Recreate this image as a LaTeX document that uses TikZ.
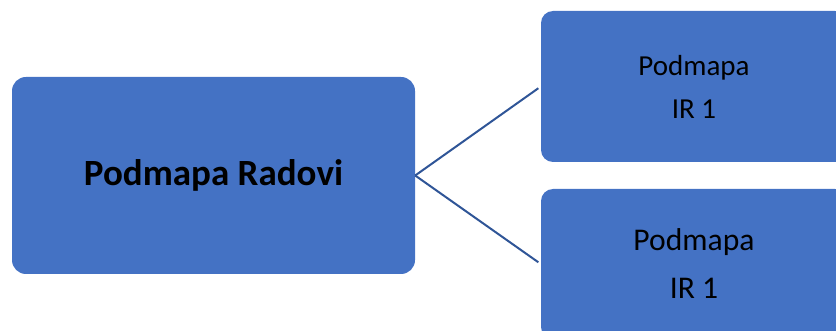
\documentclass[tikz,border=0pt]{standalone}
\usepackage{fontspec}
\setmainfont{Carlito}
\definecolor{boxblue}{HTML}{4472C4}
\definecolor{linkblue}{HTML}{2F5597}
\begin{document}
\begin{tikzpicture}[x=1pt,y=-1pt,
  mapbox/.style={draw=none,fill=boxblue,rounded corners=14pt,inner sep=0pt,
    align=center,text=black},
  link/.style={draw=linkblue,line width=2pt}]
  \useasboundingbox (0,0) rectangle (836,331);
  \clip (0,0) rectangle (836,331);
  \node[mapbox,minimum width=403pt,minimum height=197pt,
    font=\fontsize{37}{42}\selectfont\bfseries] (main) at (213.5,175.5) {Podmapa Radovi};
  \node[mapbox,rounded corners=12pt,minimum width=306pt,minimum height=151pt,
    font=\fontsize{29}{43}\selectfont] (top) at (694,86.5) {Podmapa\\IR 1};
  \node[mapbox,rounded corners=12pt,minimum width=306pt,minimum height=150pt,
    font=\fontsize{31.6}{48}\selectfont] (bot) at (694,264) {Podmapa\\IR 1};
  \draw[link,shorten >=3pt] (main.east) -- (top.west);
  \draw[link,shorten >=3pt] (main.east) -- (bot.west);
\end{tikzpicture}
\end{document}
